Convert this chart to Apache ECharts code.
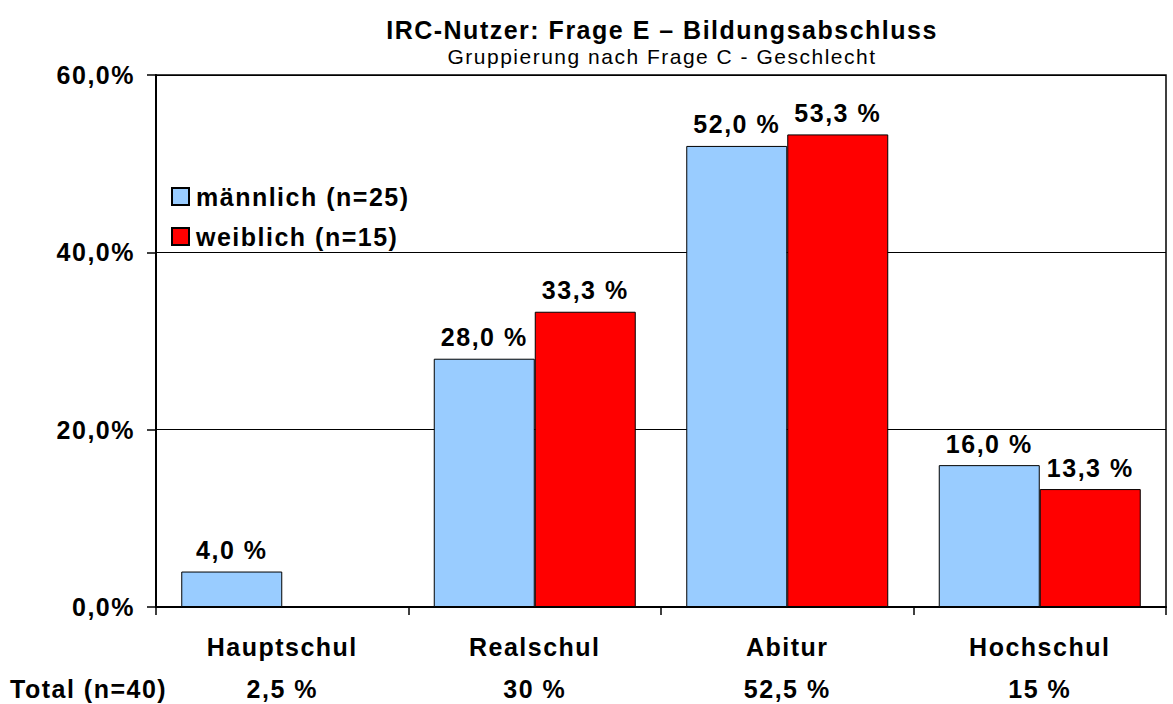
<!DOCTYPE html>
<html lang="de">

<head>
    <meta charset="UTF-8">
    <title>IRC-Nutzer: Frage E – Bildungsabschluss</title>
    <script src="https://cdn.jsdelivr.net/npm/echarts@6/dist/echarts.min.js"></script>
    <style>
        html, body {
            margin: 0;
            padding: 0;
            background: #fff;
        }
        #chart {
            width: 1173px;
            height: 704px;
        }
        /* die Vorlage hat etwas gesperrte Schrift */
        #chart svg text {
            letter-spacing: 1.5px;
        }
    </style>
</head>

<body>
    <div id="chart"></div>
</body>
<script>
    // Daten
    var categories = ["Hauptschul", "Realschul", "Abitur", "Hochschul"];
    var maleName = "männlich (n=25)";
    var femaleName = "weiblich (n=15)";
    var maleValues = [4.0, 28.0, 52.0, 16.0];
    var femaleValues = [0, 33.3, 53.3, 13.3];
    var totalLabel = "Total (n=40)";
    var totalValues = ["2,5 %", "30 %", "52,5 %", "15 %"];
    var yTicks = [0, 20, 40, 60];

    var font = "'Liberation Sans', Arial, sans-serif";

    function pct(v) {
        return v.toFixed(1).replace(".", ",");
    }

    var barLabel = {
        show: true,
        position: "top",
        distance: 9,
        color: "#000",
        fontFamily: font,
        fontWeight: "bold",
        fontSize: 25,
        formatter: function (p) {
            return p.value === 0 ? "" : pct(p.value) + " %";
        }
    };

    var chart = echarts.init(document.getElementById("chart"), null, { renderer: "svg" });
    var option = {
        animation: false,
        backgroundColor: "#fff",
        title: {
            text: "IRC-Nutzer: Frage E – Bildungsabschluss",
            subtext: "Gruppierung nach Frage C - Geschlecht",
            left: 657,
            textAlign: "center",
            top: 12,
            itemGap: 4,
            textStyle: {
                fontFamily: font,
                fontWeight: "bold",
                fontSize: 25,
                color: "#000"
            },
            subtextStyle: {
                fontFamily: font,
                fontSize: 21,
                color: "#000"
            }
        },
        legend: {
            orient: "vertical",
            left: 166,
            top: 179,
            itemWidth: 17,
            itemHeight: 17,
            itemGap: 15,
            icon: "rect",
            textStyle: {
                fontFamily: font,
                fontWeight: "bold",
                fontSize: 25,
                color: "#000",
                padding: [0, 0, 0, 2]
            },
            data: [maleName, femaleName]
        },
        grid: {
            left: 156,
            right: 7,
            top: 75,
            bottom: 97,
            show: true,
            borderColor: "#000",
            borderWidth: 1.5,
            containLabel: false
        },
        xAxis: {
            type: "category",
            data: categories,
            axisLine: { lineStyle: { color: "#000", width: 2 } },
            axisTick: { show: true, length: 8, lineStyle: { color: "#000", width: 1.5 } },
            axisLabel: {
                margin: 19,
                formatter: function (v, i) {
                    return "{c|" + v + "}\n{t|" + totalValues[i] + "}";
                },
                rich: {
                    c: { fontFamily: font, fontWeight: "bold", fontSize: 25, color: "#000", lineHeight: 42 },
                    t: { fontFamily: font, fontWeight: "bold", fontSize: 25, color: "#000", lineHeight: 42 }
                }
            }
        },
        yAxis: {
            type: "value",
            min: yTicks[0],
            max: yTicks[yTicks.length - 1],
            interval: yTicks[1] - yTicks[0],
            axisLine: { show: true, lineStyle: { color: "#000", width: 2 } },
            axisTick: { show: true, length: 9, lineStyle: { color: "#000", width: 1.5 } },
            axisLabel: {
                margin: 21,
                fontFamily: font,
                fontWeight: "bold",
                fontSize: 25,
                color: "#000",
                formatter: function (v) {
                    return pct(v) + "%";
                }
            },
            splitLine: { show: true, lineStyle: { color: "#000", width: 1 } }
        },
        graphic: [{
            type: "text",
            left: 10,
            top: 676,
            style: {
                text: totalLabel,
                font: "bold 25px " + font,
                fill: "#000"
            }
        }],
        series: [{
                name: maleName,
                type: "bar",
                barWidth: 101,
                barGap: "0%",
                itemStyle: { color: "#99CCFF", borderColor: "#000", borderWidth: 1 },
                label: barLabel,
                data: maleValues
            },
            {
                name: femaleName,
                type: "bar",
                barWidth: 101,
                barGap: "0%",
                itemStyle: { color: "#FF0000", borderColor: "#000", borderWidth: 1 },
                label: barLabel,
                data: femaleValues
            }
        ]
    };
    chart.setOption(option);
</script>

</html>
